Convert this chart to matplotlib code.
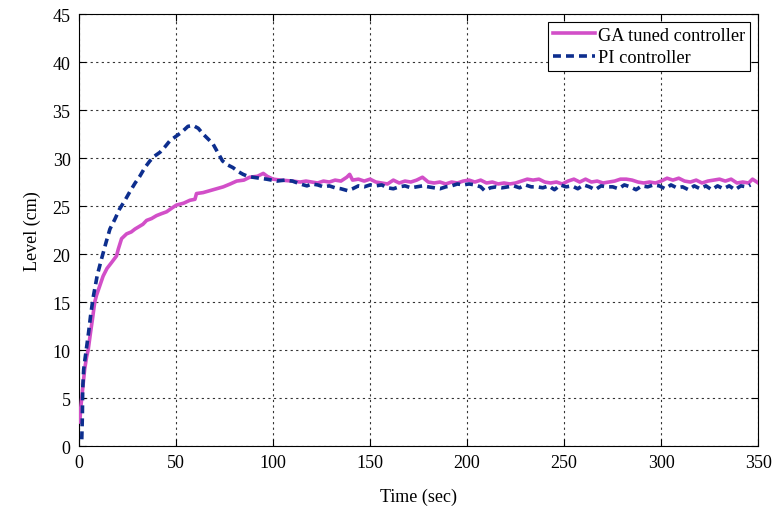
import matplotlib
matplotlib.use("Agg")
import matplotlib.pyplot as plt

plt.rcParams['font.family'] = ['Liberation Serif', 'DejaVu Serif']

# GA tuned controller
ga_t = [0.5, 1.0, 1.5, 2.2, 3.0, 4.0, 4.8, 6.0, 7.0, 8.2, 9.1, 11.0, 12.5, 14.5, 16.8, 19.4, 20.3, 22.0,
        24.6, 27.0, 28.9, 31.4, 33.0, 34.9, 37.5, 40.0, 42.5, 45.2, 48.0, 50.3, 54.0, 57.2, 59.8, 60.6,
        64.0, 67.5, 71.0, 74.4, 78.0, 81.3, 85.0, 88.0, 92.0, 95.0, 97.0, 100.0, 104.0, 110.0, 114.0,
        117, 120, 123, 126, 129, 132, 135, 138, 139.5, 141, 144, 147, 150, 153, 156, 159, 162, 165, 168,
        171, 174, 177, 180, 183, 186, 189, 192, 195, 198, 201, 204, 207, 210, 213, 216, 219, 222, 225,
        228, 231, 234, 237, 240, 243, 246, 249, 252, 255, 258, 261, 264, 267, 270, 273, 276, 279, 282,
        285, 288, 291, 294, 297, 300, 303, 306, 309, 312, 315, 318, 321, 324, 327, 330, 333, 336, 339,
        342, 345, 347, 350]
ga_y = [2.5, 4.0, 5.0, 6.5, 8.0, 9.3, 10.0, 11.8, 13.2, 15.0, 15.7, 16.8, 17.7, 18.5, 19.1, 19.8, 20.5, 21.6,
        22.1, 22.3, 22.6, 22.9, 23.1, 23.5, 23.7, 24.0, 24.2, 24.4, 24.8, 25.1, 25.3, 25.6, 25.7, 26.3,
        26.4, 26.6, 26.8, 27.0, 27.3, 27.6, 27.7, 28.0, 28.1, 28.4, 28.1, 27.8, 27.7, 27.6, 27.5,
        27.6, 27.5, 27.4, 27.6, 27.5, 27.7, 27.6, 28.0, 28.3, 27.7, 27.8, 27.6, 27.8, 27.5, 27.4, 27.3,
        27.7, 27.4, 27.6, 27.5, 27.7, 28.0, 27.5, 27.4, 27.5, 27.3, 27.5, 27.4, 27.6, 27.7, 27.5, 27.7,
        27.4, 27.5, 27.3, 27.4, 27.3, 27.4, 27.6, 27.8, 27.7, 27.8, 27.5, 27.4, 27.5, 27.3, 27.6, 27.8,
        27.5, 27.8, 27.5, 27.6, 27.4, 27.5, 27.6, 27.8, 27.8, 27.7, 27.5, 27.4, 27.5, 27.4, 27.6, 27.9,
        27.7, 27.9, 27.6, 27.5, 27.7, 27.4, 27.6, 27.7, 27.8, 27.6, 27.8, 27.4, 27.5, 27.4, 27.8, 27.4]

# PI controller
pi_t = [1.5, 1.8, 2.0, 2.5, 3.0, 4.0, 5.0, 6.0, 7.4, 9.5, 11.7, 14.0, 16.0, 18.5, 21.0, 23.5, 26.3, 29.0,
        31.4, 34.0, 36.6, 39.0, 41.8, 44.5, 46.9, 50.3, 53.0, 56.2, 58.8, 61.5, 64.0, 66.5, 69.0, 71.5,
        74.0, 76.5, 79.4, 82.0, 84.6, 87.0, 89.7, 93.0, 96.7, 102.0, 106.0, 110.0, 114.0, 117.5,
        120, 123, 126, 129, 132, 135, 138.5, 141, 144, 147, 150, 153, 156, 159, 162, 165, 168, 171, 174,
        177, 180, 183, 186, 189, 192, 195, 198, 201, 204, 207, 209, 212, 215, 218, 221, 224, 227, 230,
        233, 236, 239, 242, 245, 248, 251, 254, 257, 260, 263, 266, 269, 272, 275, 278, 281, 284, 287,
        290, 293, 296, 299, 302, 305, 308, 311, 314, 317, 320, 323, 326, 329, 332, 335, 338, 341, 344, 346]
pi_y = [0.7, 3.0, 6.0, 8.0, 8.8, 10.3, 11.8, 13.5, 15.5, 17.8, 19.5, 21.2, 22.6, 23.6, 24.7, 25.5, 26.5, 27.4,
        28.1, 29.0, 29.7, 30.2, 30.6, 31.2, 31.8, 32.3, 32.7, 33.3, 33.4, 33.1, 32.5, 32.0, 31.5, 30.6,
        29.7, 29.3, 29.0, 28.6, 28.3, 28.1, 28.0, 27.9, 27.8, 27.6, 27.7, 27.6, 27.3, 27.1,
        27.3, 27.2, 27.0, 27.1, 26.9, 26.8, 26.6, 26.8, 27.1, 27.0, 27.2, 27.1, 27.2, 26.9, 26.8, 27.0,
        27.1, 26.9, 27.0, 27.1, 27.0, 26.9, 26.8, 27.0, 27.1, 27.3, 27.2, 27.3, 27.2, 27.0, 26.6, 26.9,
        27.0, 26.9, 27.0, 27.1, 26.9, 27.2, 27.0, 27.0, 26.9, 27.1, 26.7, 27.2, 27.0, 27.1, 26.8, 27.2,
        27.0, 26.7, 27.1, 27.0, 27.0, 26.8, 27.2, 27.0, 26.7, 27.1, 27.0, 27.2, 27.1, 26.8, 27.2, 26.9,
        27.0, 26.7, 27.1, 26.8, 27.1, 26.7, 27.1, 26.8, 27.1, 26.7, 27.1, 27.0, 27.2]

xticks = [0, 50, 100, 150, 200, 250, 300, 350]
yticks = [0, 5, 10, 15, 20, 25, 30, 35, 40, 45]

fig = plt.figure(figsize=(7.73, 5.10), dpi=100)
ax = fig.add_axes([0.102, 0.1235, 0.879, 0.847])

ax.plot(ga_t, ga_y, color='#D24FC8', lw=2.6, label='GA tuned controller', zorder=3)
ax.plot(pi_t, pi_y, color='#0D2E8E', lw=2.6, linestyle=(0, (2.2, 1.4)), label='PI controller', zorder=4)

ax.set_xlim(0, 350)
ax.set_ylim(0, 45)
ax.set_xticks(xticks)
ax.set_yticks(yticks)
ax.tick_params(direction='in', top=True, right=True, labelsize=13, length=5, width=0.8, colors='k', pad=6)
ax.grid(True, color='k', linestyle=(0, (2, 3)), lw=0.8, alpha=0.8)
for s in ax.spines.values():
    s.set_linewidth(0.8)

ax.set_xlabel('Time (sec)', fontsize=13, labelpad=12)
ax.set_ylabel('Level (cm)', fontsize=13, labelpad=8)

leg = ax.legend(loc='upper right', fontsize=13.2, frameon=True, fancybox=False, edgecolor='k',
                framealpha=1, borderaxespad=0.45, handlelength=2.3, handletextpad=0.2,
                borderpad=0.25, labelspacing=0.3)
leg.get_frame().set_linewidth(0.8)

fig.savefig('out.png', dpi=100)
